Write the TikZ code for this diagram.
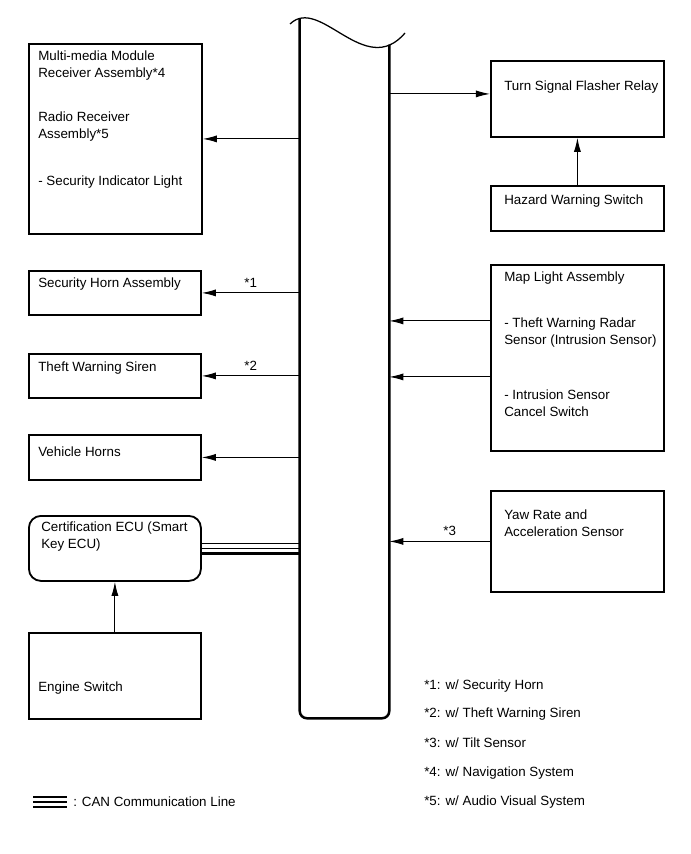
\documentclass[tikz,border=0pt]{standalone}
\usepackage{fontspec}
\setmainfont{Liberation Sans}
\usetikzlibrary{positioning,arrows.meta,calc}
\newcommand{\px}{0.025cm}
\tikzset{
    x=\px,
    y=-\px,
    >={Latex[length=10pt,width=5pt]},
    box/.style = {
        draw,
        shape=rectangle,
        anchor=north west,
        inner sep=0pt,
        line width=1.3pt
    },
    ecubox/.style = {
        box,
        rounded corners=0.3cm
    },
    bus/.style = {
        shape=rectangle,
        inner sep=0pt,
        minimum width=89*\px,
        minimum height=699*\px
    },
    txt/.style = {
        anchor=north west,
        align=left,
        inner sep=0pt,
        font=\fontsize{9.5}{12.1}\selectfont
    },
    note/.style = {
        anchor=west,
        inner sep=0pt,
        font=\fontsize{9.5}{12.1}\selectfont
    },
    tag/.style = {
        above=3.5pt,
        inner sep=0pt,
        font=\fontsize{9.5}{12.1}\selectfont
    },
    conn/.style = {
        line width=0.7pt
    },
}

\begin{document}
\begin{tikzpicture}
    \useasboundingbox (0,0) rectangle (690,854);

    % body ECU
    \node[bus] (ecu) at (344.5,368.5) {};
    \coordinate (wr) at ($(ecu.north east)+(0,26)$);
    \draw[line width=1.8pt, rounded corners=0.18cm] (ecu.north west) -- (ecu.south west) -- (ecu.south east) -- (wr);
    \draw[line width=0.9pt] (290,24) .. controls (320,-5) and (365,80) .. (405,33);

    % left side
    \node[box, minimum width=173*\px, minimum height=190*\px] (mmr) at (28,43) {};
    \node[box, minimum width=172*\px, minimum height=44*\px] (horn) at (28,270) {};
    \node[box, minimum width=172*\px, minimum height=44*\px] (siren) at (28,353) {};
    \node[box, minimum width=172*\px, minimum height=45*\px] (horns) at (28,434) {};
    \node[ecubox, minimum width=172*\px, minimum height=65*\px] (cert) at (28,515) {};
    \node[box, minimum width=172*\px, minimum height=86*\px] (engsw) at (28,632) {};

    % right side
    \node[box, minimum width=173*\px, minimum height=76*\px] (turn) at (490,60) {};
    \node[box, minimum width=173*\px, minimum height=45*\px] (hazard) at (490,185) {};
    \node[box, minimum width=173*\px, minimum height=186*\px] (maplt) at (490,264) {};
    \node[box, minimum width=173*\px, minimum height=101*\px] (yaw) at (490,490) {};

    % texts
    \node[txt] (mmr-t) at ([shift={(10,8)}]mmr.north west) {Multi-media Module\\Receiver Assembly*4\\[19pt]Radio Receiver\\Assembly*5\\[21pt]- Security Indicator Light};
    \node[txt] (horn-t) at ([shift={(10,8)}]horn.north west) {Security Horn Assembly};
    \node[txt] (siren-t) at ([shift={(10,9)}]siren.north west) {Theft Warning Siren};
    \node[txt] (horns-t) at ([shift={(10,13)}]horns.north west) {Vehicle Horns};
    \node[txt] (cert-t) at ([shift={(13,7)}]cert.north west) {Certification ECU (Smart\\Key ECU)};
    \node[txt] (engsw-t) at ([shift={(10,50)}]engsw.north west) {Engine Switch};
    \node[txt] (turn-t) at ([shift={(14,21)}]turn.north west) {Turn Signal Flasher Relay};
    \node[txt] (hazard-t) at ([shift={(14,10)}]hazard.north west) {Hazard Warning Switch};
    \node[txt] (maplt-t) at ([shift={(14,8)}]maplt.north west) {Map Light Assembly\\[20pt]- Theft Warning Radar\\Sensor (Intrusion Sensor)\\[27pt]- Intrusion Sensor\\Cancel Switch};
    \node[txt] (yaw-t) at ([shift={(14,20)}]yaw.north west) {Yaw Rate and\\Acceleration Sensor};

    % connectors
    \path[draw, conn, ->] (ecu.west |- mmr.east) -- (mmr.east);
    \path[draw, conn, ->] (ecu.west |- horn.east) -- node[tag] {*1} (horn.east);
    \path[draw, conn, ->] (ecu.west |- siren.east) -- node[tag] {*2} (siren.east);
    \path[draw, conn, ->] (ecu.west |- horns.east) -- (horns.east);
    \foreach \d/\w in {-5/0.8pt, 0/0.8pt, 5/1.6pt}
        \path[draw, line width=\w] ($(cert.east)+(0,\d)$) -- ($(cert.east -| ecu.west)+(0,\d)$);
    \path[draw, conn, ->] (engsw) -- (cert);

    \coordinate (tr) at ($(turn.west)+(0,-5)$);
    \path[draw, conn, ->] (tr -| ecu.east) -- (tr);
    \path[draw, conn, ->] (hazard) -- (turn);
    \coordinate (ml1) at ($(maplt.west)+(0,-37)$);
    \coordinate (ml2) at ($(maplt.west)+(0,19)$);
    \path[draw, conn, ->] (ml1) -- (ml1 -| ecu.east);
    \path[draw, conn, ->] (ml2) -- (ml2 -| ecu.east);
    \path[draw, conn, ->] (yaw.west) -- node[tag, pos=0.4] {*3} (yaw.west -| ecu.east);

    % notes
    \node[note] (n1) at (424,686) {*1: w/ Security Horn};
    \node[note] (n2) at (424,714) {*2: w/ Theft Warning Siren};
    \node[note] (n3) at (424,743) {*3: w/ Tilt Sensor};
    \node[note] (n4) at (424,773) {*4: w/ Navigation System};
    \node[note] (n5) at (424,802) {*5: w/ Audio Visual System};

    % legend
    \node[note] (can-t) at (73,802) {: CAN Communication Line};
    \foreach \d/\w in {-5/0.9pt, 0/0.8pt, 5/1.6pt}
        \path[draw, line width=\w] ($(can-t.west)+(-40,\d)$) -- ($(can-t.west)+(-6,\d)$);
\end{tikzpicture}
\end{document}
